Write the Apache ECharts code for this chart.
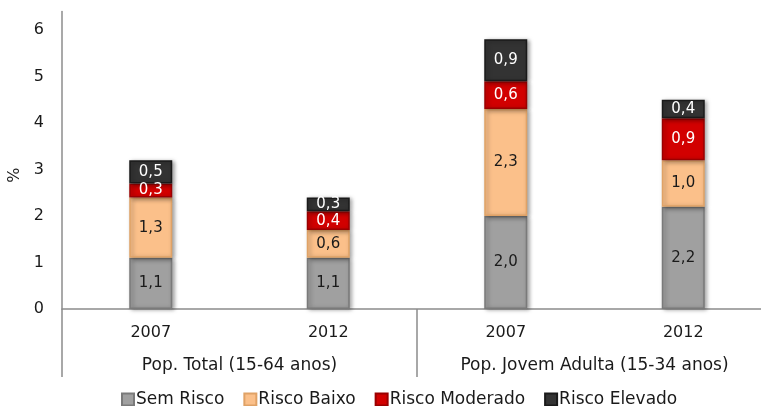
<!DOCTYPE html>
<html>
<head>
<meta charset="utf-8">
<script src="https://cdn.jsdelivr.net/npm/echarts@6/dist/echarts.min.js"></script>
<style>
html,body{margin:0;padding:0;background:#fff;}
#chart{width:761px;height:406px;}
</style>
</head>
<body>
<div id="chart"></div>
<script>
const categories = ['2007', '2012', '2007', '2012'];
const groups = ['Pop. Total (15-64 anos)', 'Pop. Jovem Adulta (15-34 anos)'];
const seriesNames = ['Sem Risco', 'Risco Baixo', 'Risco Moderado', 'Risco Elevado'];
const semRisco = [1.1, 1.1, 2.0, 2.2];
const riscoBaixo = [1.3, 0.6, 2.3, 1.0];
const riscoModerado = [0.3, 0.4, 0.6, 0.9];
const riscoElevado = [0.5, 0.3, 0.9, 0.4];
const yMin = 0, yMax = 6.4, yInterval = 1;

const FONT = 'DejaVu Sans';
const AXIS_COLOR = '#8c8c8c';
const colors = ['#a0a0a0', '#fbc08a', '#d20000', '#333333'];
const borders = ['#7a7a7a', '#e0a266', '#9a0000', '#1a1a1a'];
const labelColors = ['#1a1a1a', '#1a1a1a', '#ffffff', '#ffffff'];
const values = [semRisco, riscoBaixo, riscoModerado, riscoElevado];

const chart = echarts.init(document.getElementById('chart'), null, {renderer: 'canvas'});

const series = seriesNames.map((name, i) => ({
  name: name,
  type: 'bar',
  stack: 'total',
  xAxisIndex: 0,
  barWidth: 43,
  data: values[i],
  itemStyle: {
    color: colors[i],
    borderColor: borders[i],
    borderWidth: 1.5,
    shadowColor: 'rgba(0,0,0,0.35)',
    shadowBlur: 4,
    shadowOffsetX: 2,
    shadowOffsetY: 1
  },
  label: {
    show: true,
    position: 'inside',
    fontFamily: FONT,
    fontSize: 15,
    color: labelColors[i],
    formatter: p => p.value.toFixed(1).replace('.', ',')
  }
}));

chart.setOption({
  animation: false,
  textStyle: {fontFamily: FONT},
  grid: {left: 62, width: 710, top: 11.4, bottom: 97, containLabel: false, outerBoundsMode: 'none'},
  legend: {
    data: seriesNames,
    left: 116,
    top: 386,
    icon: 'rect',
    itemWidth: 12,
    itemHeight: 12,
    itemGap: 19,
    textStyle: {fontFamily: FONT, fontSize: 17, color: '#1a1a1a', padding: [0, 0, 0, -3]}
  },
  xAxis: [
    {
      type: 'category',
      data: categories,
      position: 'bottom',
      axisLine: {show: true, lineStyle: {color: AXIS_COLOR, width: 1.5}},
      axisTick: {show: false},
      axisLabel: {fontFamily: FONT, fontSize: 16, color: '#1a1a1a', margin: 16}
    },
    {
      type: 'category',
      data: groups,
      position: 'bottom',
      offset: 0,
      axisLine: {show: false},
      axisTick: {show: true, length: 68, interval: 0, lineStyle: {color: AXIS_COLOR, width: 1.5}},
      axisLabel: {fontFamily: FONT, fontSize: 17, color: '#1a1a1a', margin: 48, interval: 0}
    }
  ],
  yAxis: {
    type: 'value',
    min: yMin,
    max: yMax,
    interval: yInterval,
    name: '%',
    nameLocation: 'middle',
    nameRotate: 90,
    nameGap: 36,
    nameTextStyle: {fontFamily: FONT, fontSize: 16, color: '#1a1a1a', padding: [0, 30, 0, 0]},
    axisLine: {show: true, lineStyle: {color: AXIS_COLOR, width: 1.5}},
    axisTick: {show: false},
    splitLine: {show: false},
    axisLabel: {fontFamily: FONT, fontSize: 16, color: '#1a1a1a', margin: 18, showMaxLabel: false}
  },
  series: series
});
</script>
</body>
</html>
